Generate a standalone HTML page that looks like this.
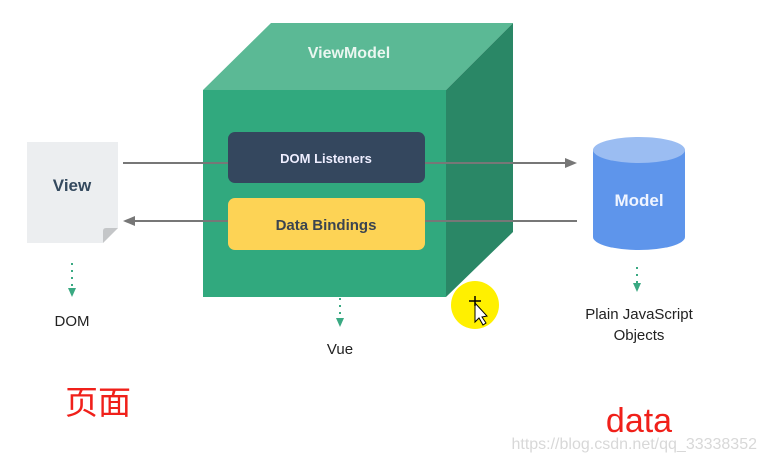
<!DOCTYPE html>
<html><head><meta charset="utf-8"><style>
body{margin:0;width:766px;height:462px;background:#fff;overflow:hidden;}
svg{display:block}
</style></head><body>
<svg width="766" height="462" viewBox="0 0 766 462" xmlns="http://www.w3.org/2000/svg" font-family="'Liberation Sans','Noto Sans CJK SC',sans-serif">
<!-- View doc -->
<path d="M27 142 H118 V228 L103 243 H27 Z" fill="#eceef0"/>
<path d="M103 243 L118 228 H106 Q103 228 103 231 Z" fill="#c4c6c8"/>
<text x="72" y="191" text-anchor="middle" font-size="17" font-weight="bold" fill="#34495e">View</text>
<!-- cube -->
<polygon points="203,90 271,23 513,23 446,90" fill="#5bb995"/>
<polygon points="446,90 513,23 513,232 446,297" fill="#2a8766"/>
<rect x="203" y="90" width="243" height="207" fill="#31a97e"/>
<text x="349" y="58" text-anchor="middle" font-size="16" font-weight="bold" fill="#eaf6f0">ViewModel</text>
<!-- lines -->
<line x1="123" y1="163" x2="228" y2="163" stroke="#777" stroke-width="2"/>
<line x1="425" y1="163" x2="567" y2="163" stroke="#777" stroke-width="2"/>
<polygon points="577,163 565,158 565,168" fill="#777"/>
<line x1="133" y1="221" x2="228" y2="221" stroke="#777" stroke-width="2"/>
<polygon points="123,221 135,216 135,226" fill="#777"/>
<line x1="425" y1="221" x2="577" y2="221" stroke="#777" stroke-width="2"/>
<rect x="228" y="132" width="197" height="51" rx="7" fill="#34475e"/>
<text x="326" y="163" text-anchor="middle" font-size="13" font-weight="bold" fill="#eef">DOM Listeners</text>
<rect x="228" y="198" width="197" height="52" rx="7" fill="#fdd355"/>
<text x="326" y="230" text-anchor="middle" font-size="15" font-weight="bold" fill="#3b4450">Data Bindings</text>
<!-- cylinder -->
<path d="M593 150 V237 A46 13 0 0 0 685 237 V150 Z" fill="#5e95eb"/>
<ellipse cx="639" cy="150" rx="46" ry="13" fill="#9bbdf2"/>
<text x="639" y="206" text-anchor="middle" font-size="17" font-weight="bold" fill="#f0f5ff">Model</text>
<!-- dotted arrows -->
<g stroke="#3aa982" stroke-width="2" stroke-dasharray="2,5">
<line x1="72" y1="263" x2="72" y2="288"/>
<line x1="340" y1="298" x2="340" y2="318"/>
<line x1="637" y1="267" x2="637" y2="283"/>
</g>
<polygon points="68,288 76,288 72,297" fill="#3aa982"/>
<polygon points="336,318 344,318 340,327" fill="#3aa982"/>
<polygon points="633,283 641,283 637,292" fill="#3aa982"/>
<text x="72" y="326" text-anchor="middle" font-size="15" fill="#222">DOM</text>
<text x="340" y="354" text-anchor="middle" font-size="15" fill="#222">Vue</text>
<text x="639" y="319" text-anchor="middle" font-size="15" fill="#222">Plain JavaScript</text>
<text x="639" y="340" text-anchor="middle" font-size="15" fill="#222">Objects</text>
<!-- yellow cursor -->
<circle cx="475" cy="305" r="24" fill="#fff000"/>
<path d="M475 303 L475 322 L479 318 L483 325 L486 323 L482 317 L487 316 Z" fill="#fff" stroke="#000" stroke-width="1"/>
<path d="M469 301 H481 M475 296 V306" stroke="#000" stroke-width="1.5"/>
<text x="98" y="414" text-anchor="middle" font-size="33" fill="#f0201a">页面</text>
<text x="639" y="432" text-anchor="middle" font-size="34" fill="#f0201a">data</text>
<text x="757" y="449" text-anchor="end" font-size="16" fill="#d8d8d8">https://blog.csdn.net/qq_33338352</text>
</svg>
</body></html>
